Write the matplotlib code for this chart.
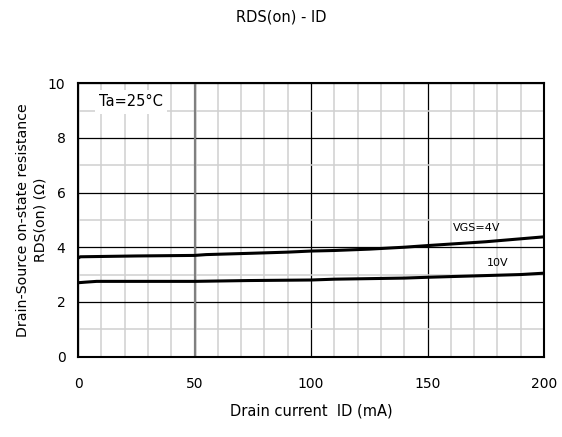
import matplotlib
matplotlib.use("Agg")
import matplotlib.pyplot as plt
import numpy as np

plt.rcParams['font.family'] = ['DejaVu Sans']

id_4v = [0, 1, 25, 50, 55, 75, 90, 100, 110, 125, 140, 150, 175, 200]
r_4v = [3.60, 3.65, 3.68, 3.70, 3.73, 3.78, 3.82, 3.86, 3.88, 3.93, 4.00, 4.06, 4.20, 4.38]
id_10v = [0, 3, 8, 50, 73, 100, 110, 140, 150, 170, 190, 200]
r_10v = [2.70, 2.72, 2.75, 2.75, 2.78, 2.80, 2.83, 2.87, 2.90, 2.95, 3.00, 3.05]

xticks = [0, 50, 100, 150, 200]
yticks = [0, 2, 4, 6, 8, 10]

fig = plt.figure(figsize=(5.62, 4.37), dpi=100)
ax = fig.add_axes([0.1388, 0.1842, 0.8292, 0.6252])
ax.set_xlim(0, 200)
ax.set_ylim(0, 10)
ax.set_xticks(xticks)
ax.set_yticks(yticks)
ax.set_xticks(np.arange(0, 201, 10), minor=True)
ax.set_yticks(np.arange(0, 11, 1), minor=True)
ax.grid(which='minor', color='#d0d0d0', lw=1.1)
ax.grid(which='major', color='black', lw=0.9)
ax.axvline(50, color='#808080', lw=1.6, zorder=1.5)
ax.tick_params(which='both', length=0, labelsize=10)
ax.tick_params(axis='x', pad=15)
ax.tick_params(axis='y', pad=9)
for s in ax.spines.values():
    s.set_linewidth(1.5)
ax.set_axisbelow(True)

ax.plot(id_4v, r_4v, color='black', lw=2.2, zorder=3)
ax.plot(id_10v, r_10v, color='black', lw=2.2, zorder=3)

ax.text(171, 4.72, 'VGS=4V', fontsize=8, ha='center', va='center')
ax.text(180, 3.42, '10V', fontsize=8, ha='center', va='center')
ax.text(22.7, 9.32, 'Ta=25°C', fontsize=10.5, ha='center', va='center', zorder=4,
        bbox=dict(facecolor='white', edgecolor='none', pad=3))

ax.set_xlabel('Drain current  ID (mA)', fontsize=10.5, labelpad=9)
ax.set_ylabel('Drain-Source on-state resistance\nRDS(on) (Ω)', fontsize=10.2,
              linespacing=1.3, va='center', ha='center')
ax.yaxis.set_label_coords(-0.1, 0.5)
fig.text(0.5, 1 - 17 / 437, 'RDS(on) - ID', fontsize=10.5, ha='center', va='center')

fig.savefig('out.png', dpi=100, facecolor='white')
